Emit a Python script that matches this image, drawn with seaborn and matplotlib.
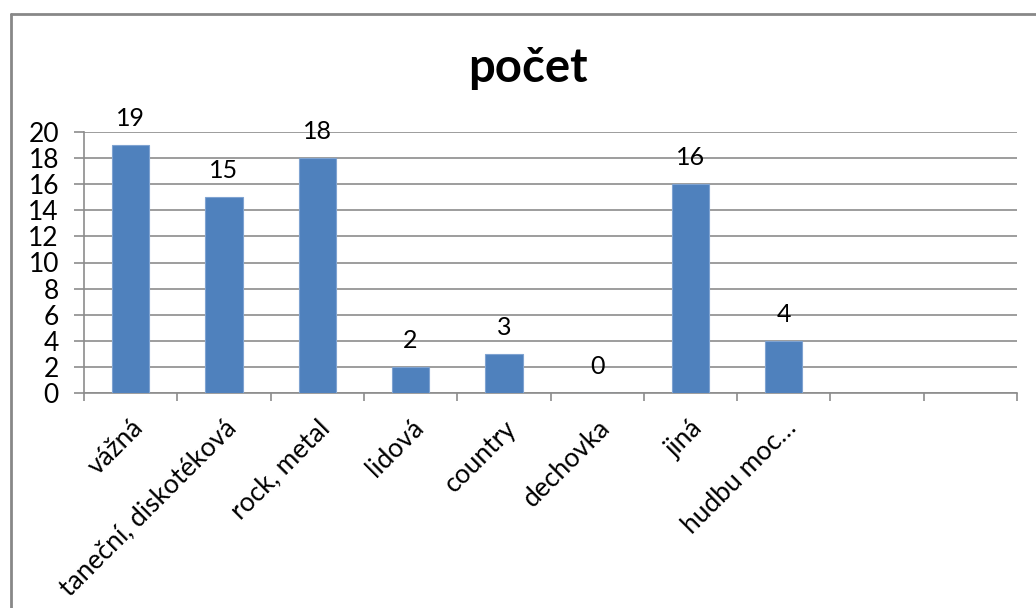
import matplotlib
matplotlib.use("Agg")
import matplotlib.pyplot as plt
from matplotlib.lines import Line2D
import seaborn as sb

# data
categories = ["vážná", "taneční, diskotéková", "rock, metal", "lidová", "country",
              "dechovka", "jiná", "hudbu moc…", " ", "  "]
values = [19, 15, 18, 2, 3, 0, 16, 4]
title = "počet"
y_ticks = list(range(0, 21, 2))

bar_color = "#4F81BD"
grid_color = "#8C8C8C"

sb.set_style("white")
plt.rcParams['font.family'] = ['Lato', 'DejaVu Sans']
plt.rcParams['text.color'] = 'black'
plt.rcParams['xtick.labelcolor'] = 'black'
plt.rcParams['ytick.labelcolor'] = 'black'

fig = plt.figure(figsize=(10.36, 6.08), dpi=100)
ax = fig.add_axes([84 / 1036, 1 - 393 / 608, (1017 - 84) / 1036, (393 - 132) / 608])

sb.barplot(x=categories[:len(values)], y=values, order=categories, width=0.4,
           color=bar_color, saturation=1, ax=ax, zorder=3, edgecolor="#7FA3D1", linewidth=0.8)

# value labels over the bars
for bar, v in zip(ax.patches, values):
    ax.annotate(str(v), (bar.get_x() + bar.get_width() / 2, bar.get_height()),
                xytext=(0, 11), textcoords="offset points",
                ha="center", va="bottom", fontsize=18, color="black")

ax.set_xlim(-0.5, len(categories) - 0.5)
ax.set_ylim(0, 20)
ax.set_yticks(y_ticks)
ax.yaxis.grid(True, color=grid_color, linewidth=1.2, zorder=0)
ax.set_axisbelow(True)

# labels at the category centres, tick marks at the boundaries
ax.set_xticks(range(len(categories)))
ax.set_xticklabels(categories, rotation=45, ha="right", rotation_mode="anchor", fontsize=19)
ax.set_xticks([i + 0.5 for i in range(-1, len(categories))], minor=True)
ax.tick_params(axis="x", which="major", length=0, pad=16)
ax.tick_params(axis="x", which="minor", length=6, width=1.2, color=grid_color, bottom=True)
ax.tick_params(axis="y", length=7, width=1.2, color=grid_color, left=True, labelsize=19, pad=11)

for s in ["top", "right"]:
    ax.spines[s].set_visible(False)
for s in ["left", "bottom"]:
    ax.spines[s].set_color(grid_color)
    ax.spines[s].set_linewidth(1.2)
ax.set_xlabel("")
ax.set_ylabel("")

fig.text(528 / 1036, 1 - 68 / 608, title, ha="center", va="center",
         fontsize=34, fontweight="bold", color="black")

# chart area frame (left and top edges visible)
fig.add_artist(Line2D([11 / 1036, 11 / 1036], [0, 1 - 14 / 608], transform=fig.transFigure,
                      color="#888888", linewidth=2))
fig.add_artist(Line2D([11 / 1036, 1], [1 - 14 / 608, 1 - 14 / 608], transform=fig.transFigure,
                      color="#888888", linewidth=2))

fig.savefig("out.png", dpi=100, facecolor="white")
